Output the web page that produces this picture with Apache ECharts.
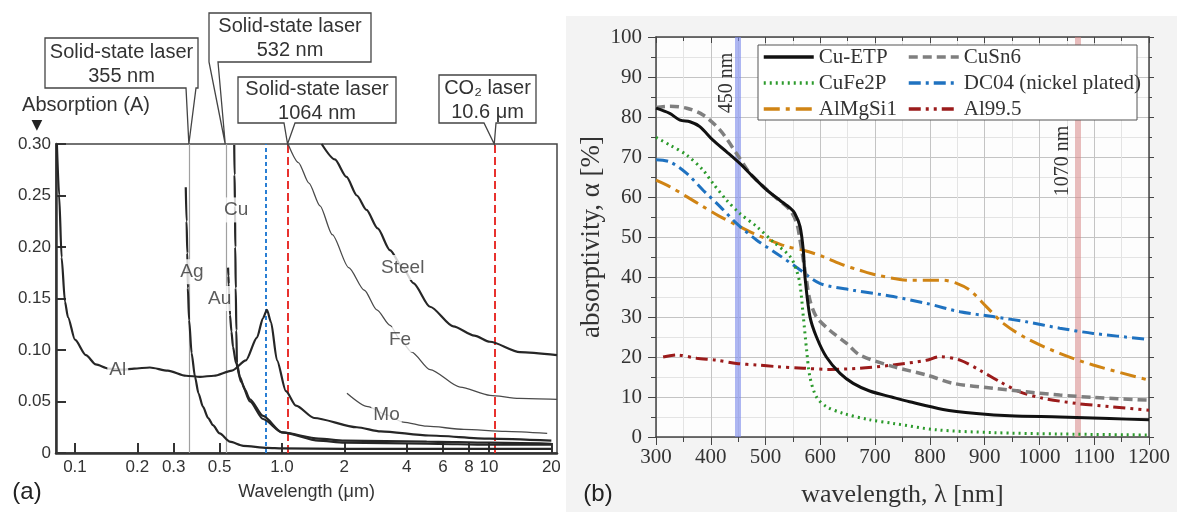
<!DOCTYPE html>
<html>
<head>
<meta charset="utf-8">
<script src="https://cdn.jsdelivr.net/npm/echarts@6/dist/echarts.min.js"></script>
<style>
html, body { margin: 0; padding: 0; background: #fff; }
#chart { width: 1177px; height: 512px; }
</style>
</head>
<body>
<div id="chart"></div>
<script>
// ---------- panel (a): absorption vs wavelength in µm (log scale) ----------
const alX = [0.0818, 0.0839, 0.0862, 0.0895, 0.0925, 0.1, 0.113, 0.126, 0.145, 0.17, 0.193, 0.23, 0.281, 0.344, 0.402, 0.469, 0.573, 0.67, 0.757, 0.81, 0.846, 0.885, 0.946, 1.045, 1.168, 1.43, 2.3, 3.0, 5.13, 10, 20];
const alY = [0.300, 0.250, 0.190, 0.147, 0.132, 0.110, 0.095, 0.086, 0.082, 0.081, 0.082, 0.083, 0.080, 0.075, 0.074, 0.075, 0.080, 0.090, 0.112, 0.131, 0.139, 0.127, 0.090, 0.060, 0.046, 0.034, 0.025, 0.021, 0.017, 0.014, 0.012];
const agX = [0.343, 0.346, 0.349, 0.351, 0.356, 0.366, 0.380, 0.395, 0.415, 0.44, 0.464, 0.50, 0.56, 0.65, 0.85, 1.0, 2, 5, 10, 20];
const agY = [0.258, 0.225, 0.194, 0.160, 0.129, 0.097, 0.074, 0.058, 0.045, 0.034, 0.027, 0.019, 0.011, 0.007, 0.005, 0.0045, 0.004, 0.004, 0.004, 0.004];
const auX = [0.549, 0.551, 0.553, 0.561, 0.57, 0.58, 0.60, 0.635, 0.70, 0.81, 1.0, 1.5, 2, 5, 10, 20];
const auY = [0.180, 0.172, 0.164, 0.134, 0.118, 0.103, 0.087, 0.069, 0.050, 0.033, 0.020, 0.014, 0.012, 0.011, 0.010, 0.009];
const cuX = [0.588, 0.590, 0.593, 0.595, 0.598, 0.602, 0.606, 0.626, 0.66, 0.70, 0.81, 1.0, 1.5, 2, 5, 10, 20];
const cuY = [0.299, 0.270, 0.240, 0.200, 0.160, 0.119, 0.087, 0.074, 0.062, 0.052, 0.036, 0.020, 0.012, 0.010, 0.009, 0.008, 0.008];
const steelX = [1.555, 1.8, 2.05, 2.30, 2.56, 2.9, 3.32, 3.83, 4.31, 5.19, 6.72, 8.5, 10.1, 14.1, 21.3];
const steelY = [0.300, 0.285, 0.268, 0.250, 0.236, 0.218, 0.197, 0.180, 0.165, 0.142, 0.123, 0.114, 0.108, 0.098, 0.095];
const feX = [1.07, 1.2, 1.35, 1.526, 1.75, 2.1, 2.5, 2.87, 3.33, 3.72, 4.23, 5.19, 7.25, 10.1, 14, 21.3];
const feY = [0.300, 0.282, 0.262, 0.240, 0.212, 0.180, 0.158, 0.139, 0.124, 0.110, 0.098, 0.081, 0.064, 0.056, 0.053, 0.052];
const moX = [2.06, 2.6, 3.2, 3.85, 5, 7.57, 12, 19.1];
const moY = [0.058, 0.045, 0.037, 0.030, 0.026, 0.023, 0.021, 0.019];

const curveNames = ['Al', 'Ag', 'Au', 'Cu', 'Steel', 'Fe', 'Mo'];
const labelX = [0.161, 0.367, 0.50, 0.60, 3.83, 3.72, 3.2];
const labelY = [0.081, 0.176, 0.150, 0.236, 0.180, 0.110, 0.037];

const xTickValues = [0.1, 0.2, 0.3, 0.5, 1, 2, 4, 6, 8, 10, 20];
const xTickLabels = ['0.1', '0.2', '0.3', '0.5', '1.0', '2', '4', '6', '8', '10', '20'];
const xMin = 0.081, xMax = 21.3;

const laserLines = [0.355, 0.532, 0.83, 1.064, 10.6];
const laserTexts = ['Solid-state laser\n355 nm', 'Solid-state laser\n532 nm', '', 'Solid-state laser\n1064 nm', 'CO\u2082 laser\n10.6 \u03bcm'];

// ---------- panel (b): absorptivity vs wavelength in nm ----------
const cuEtpX = [300, 325, 344, 362, 380, 404, 429, 453, 477, 502, 526, 545, 553, 563, 569, 572, 581, 593, 611, 636, 660, 690, 730, 763, 824, 885, 946, 1037, 1128, 1200];
const cuEtpY = [82.2, 80.9, 79.2, 78.8, 77.6, 74.2, 71.3, 68.4, 65.1, 61.8, 59.2, 57.2, 56.0, 52.6, 46.5, 40.0, 30.1, 25.0, 20.0, 15.9, 13.4, 11.5, 10.0, 8.8, 6.9, 5.9, 5.3, 5.0, 4.6, 4.3];
const cuSn6X = [300, 325, 356, 386, 417, 447, 471, 496, 520, 545, 557, 563, 569, 575, 581, 593, 617, 648, 672, 733, 794, 843, 915, 976, 1037, 1098, 1200];
const cuSn6Y = [82.4, 82.7, 82.2, 80.5, 76.7, 70.9, 66.0, 62.6, 59.7, 56.7, 53.4, 49.2, 44.2, 39.0, 34.2, 30.0, 26.7, 23.4, 20.5, 17.6, 15.5, 13.4, 12.2, 11.3, 10.5, 9.9, 9.2];
const cuFe2PX = [300, 325, 356, 386, 404, 429, 453, 484, 514, 545, 557, 563, 569, 575, 581, 593, 611, 642, 690, 733, 812, 915, 1037, 1200];
const cuFe2PY = [74.9, 73.0, 70.5, 66.7, 63.4, 59.2, 55.9, 52.6, 48.8, 45.1, 41.5, 38.0, 30.0, 21.7, 15.0, 10.0, 7.6, 5.9, 4.3, 3.4, 1.8, 1.1, 0.75, 0.5];
const dc04X = [300, 325, 356, 386, 417, 447, 484, 520, 557, 599, 660, 733, 794, 855, 915, 976, 1037, 1098, 1200];
const dc04Y = [69.3, 68.8, 65.9, 61.7, 57.6, 53.4, 49.2, 45.9, 42.4, 38.4, 36.7, 35.1, 33.4, 31.3, 30.1, 28.8, 27.2, 25.9, 24.4];
const almgX = [300, 325, 356, 386, 417, 447, 478, 508, 539, 569, 605, 642, 672, 703, 763, 824, 849, 873, 903, 934, 976, 1037, 1098, 1200];
const almgY = [64.2, 62.6, 60.1, 57.6, 55.1, 53.0, 50.9, 49.2, 47.6, 46.7, 45.1, 43.0, 41.7, 40.5, 39.2, 39.2, 38.4, 36.7, 32.6, 28.4, 24.7, 20.9, 18.0, 14.2];
const al995X = [313, 338, 374, 411, 447, 484, 520, 569, 617, 672, 733, 794, 818, 855, 891, 928, 964, 1006, 1067, 1128, 1200];
const al995Y = [20.0, 20.5, 19.7, 19.2, 18.4, 18.0, 17.6, 17.2, 16.9, 17.2, 18.0, 19.2, 20.1, 19.2, 16.7, 13.8, 11.3, 9.7, 8.4, 7.6, 6.7];

const legendCol1 = ['Cu-ETP', 'CuFe2P', 'AlMgSi1'];
const legendCol2 = ['CuSn6', 'DC04 (nickel plated)', 'Al99.5'];
const bandLines = [450, 1070];
const bandTexts = ['450 nm', '1070 nm'];

const SANS = 'Liberation Sans';
const SERIF = 'Liberation Serif';
const INK = '#333';

const logPairs = (xs, ys) => xs.map((x, i) => [Math.log10(x), ys[i]]);
const pairs = (xs, ys) => xs.map((x, i) => [x, ys[i]]);

function leftCurve(name, xs, ys, width, color) {
    return {
        name: name, type: 'line', xAxisIndex: 0, yAxisIndex: 0,
        data: logPairs(xs, ys), symbol: 'none', smooth: 0.25, smoothMonotone: 'x',
        lineStyle: { color: color || '#262626', width: width || 2.2 },
        silent: true, z: 3
    };
}

function rightCurve(name, xs, ys, color, type, width) {
    return {
        name: name, type: 'line', xAxisIndex: 1, yAxisIndex: 1,
        data: pairs(xs, ys), symbol: 'none', smooth: 0.3,
        lineStyle: { color: color, width: width || 3, type: type, cap: 'butt' },
        itemStyle: { color: color },
        silent: true, z: 3
    };
}

const laserStyles = [
    { color: '#a0a0a0', width: 1.2, type: 'solid' },
    { color: '#a0a0a0', width: 1.2, type: 'solid' },
    { color: '#2a7fd4', width: 2, type: [4, 3] },
    { color: '#e8322e', width: 2, type: [8, 4] },
    { color: '#e8322e', width: 2, type: [8, 4] }
];

const alSeries = leftCurve('Al', alX, alY);
alSeries.markLine = {
    silent: true, symbol: ['none', 'none'], label: { show: false }, z: 1,
    data: laserLines.map((v, i) => ({ xAxis: Math.log10(v), lineStyle: laserStyles[i] }))
};

const legendBase = {
    orient: 'vertical', top: 46, padding: 0, itemGap: 4,
    itemWidth: 50, itemHeight: 14, selectedMode: false,
    itemStyle: { opacity: 0 },
    lineStyle: { width: 3.5 },
    textStyle: { fontFamily: SERIF, fontSize: 21, color: INK, lineHeight: 22 }
};

const option = {
    animation: false,
    backgroundColor: '#fff',
    grid: [
        { left: 56, top: 144, width: 501, height: 309, show: true, borderColor: '#444', borderWidth: 1.5,
          backgroundColor: 'transparent', containLabel: false, outerBoundsMode: 'none' },
        { left: 656, top: 37, width: 493, height: 400, show: true, borderWidth: 0,
          backgroundColor: '#fdfdfd', containLabel: false, outerBoundsMode: 'none' }
    ],
    legend: [
        Object.assign({ data: legendCol1, left: 762 }, legendBase),
        Object.assign({ data: legendCol2, left: 907 }, legendBase)
    ],
    xAxis: [
        {
            type: 'value', gridIndex: 0, min: Math.log10(xMin), max: Math.log10(xMax),
            axisLine: { show: true, onZero: false, lineStyle: { color: '#333', width: 2.5 } },
            axisTick: { show: true, inside: true, length: 10, customValues: xTickValues.map(Math.log10),
                        lineStyle: { color: '#333', width: 2 } },
            axisLabel: {
                customValues: xTickValues.map(Math.log10), margin: 6,
                fontFamily: SANS, fontSize: 17, color: INK,
                formatter: v => {
                    let best = 0;
                    xTickValues.forEach((t, i) => {
                        if (Math.abs(Math.log10(t) - v) < Math.abs(Math.log10(xTickValues[best]) - v)) best = i;
                    });
                    return xTickLabels[best];
                }
            },
            splitLine: { show: false },
            name: 'Wavelength (\u03bcm)', nameLocation: 'middle', nameGap: 30,
            nameTextStyle: { fontFamily: SANS, fontSize: 18, color: INK }
        },
        {
            type: 'value', gridIndex: 1, min: 300, max: 1200, interval: 100,
            axisLine: { show: true, onZero: false, lineStyle: { color: '#444', width: 1.5 } },
            axisTick: { show: true, length: 8, lineStyle: { color: '#444' } },
            minorTick: { show: true, splitNumber: 2, length: 5, lineStyle: { color: '#444' } },
            splitLine: { show: true, lineStyle: { color: '#c4c4c4', width: 1 } },
            minorSplitLine: { show: true, lineStyle: { color: '#e4e4e4', width: 1 } },
            axisLabel: { fontFamily: SERIF, fontSize: 21, color: INK, margin: 10, formatter: v => String(v) },
            name: 'wavelength, \u03bb [nm]', nameLocation: 'middle', nameGap: 45,
            nameTextStyle: { fontFamily: SERIF, fontSize: 26, color: INK }
        },
        {
            type: 'value', gridIndex: 1, position: 'top', min: 300, max: 1200, interval: 100,
            axisLine: { show: true, onZero: false, lineStyle: { color: '#444', width: 1.5 } },
            axisTick: { show: true, inside: true, length: 6, lineStyle: { color: '#444' } },
            minorTick: { show: true, splitNumber: 2, length: 4, lineStyle: { color: '#444' } },
            axisLabel: { show: false }, splitLine: { show: false }
        }
    ],
    yAxis: [
        {
            type: 'value', gridIndex: 0, min: 0, max: 0.3, interval: 0.05,
            axisLine: { show: true, onZero: false, lineStyle: { color: '#333', width: 2.5 } },
            axisTick: { show: true, inside: true, length: 10, lineStyle: { color: '#333', width: 2 } },
            axisLabel: { margin: 5, fontFamily: SANS, fontSize: 17, color: INK,
                         formatter: v => (v === 0 ? '0' : v.toFixed(2)) },
            splitLine: { show: false }
        },
        {
            type: 'value', gridIndex: 1, min: 0, max: 100, interval: 10,
            axisLine: { show: true, onZero: false, lineStyle: { color: '#444', width: 1.5 } },
            axisTick: { show: true, length: 8, lineStyle: { color: '#444' } },
            minorTick: { show: true, splitNumber: 2, length: 5, lineStyle: { color: '#444' } },
            splitLine: { show: true, lineStyle: { color: '#c4c4c4', width: 1 } },
            minorSplitLine: { show: true, lineStyle: { color: '#e4e4e4', width: 1 } },
            axisLabel: { fontFamily: SERIF, fontSize: 21, color: INK, margin: 14 },
            name: 'absorptivity, \u03b1 [%]', nameLocation: 'middle', nameGap: 51, nameRotate: 90,
            nameTextStyle: { fontFamily: SERIF, fontSize: 27, color: INK }
        },
        {
            type: 'value', gridIndex: 1, position: 'right', min: 0, max: 100, interval: 10,
            axisLine: { show: true, onZero: false, lineStyle: { color: '#444', width: 1.5 } },
            axisTick: { show: true, length: 5, lineStyle: { color: '#444' } },
            minorTick: { show: true, splitNumber: 2, length: 3, lineStyle: { color: '#444' } },
            axisLabel: { show: false }, splitLine: { show: false }
        }
    ],
    series: [
        alSeries,
        leftCurve('Ag', agX, agY),
        leftCurve('Au', auX, auY),
        leftCurve('Cu', cuX, cuY),
        leftCurve('Steel', steelX, steelY),
        leftCurve('Fe', feX, feY, 1.3, '#4a4a4a'),
        leftCurve('Mo', moX, moY, 1.3, '#4a4a4a'),
        {
            type: 'scatter', xAxisIndex: 0, yAxisIndex: 0, silent: true, z: 10,
            symbolSize: 1, itemStyle: { color: 'rgba(0,0,0,0)' },
            data: curveNames.map((n, i) => [Math.log10(labelX[i]), labelY[i], n]),
            label: { show: true, position: 'inside', formatter: p => p.data[2],
                     fontFamily: SANS, fontSize: 19, color: INK, backgroundColor: '#fff', padding: [3, 2] }
        },
        {
            type: 'line', xAxisIndex: 1, yAxisIndex: 1, data: [], silent: true,
            markLine: {
                silent: true, symbol: ['none', 'none'], label: { show: false }, z: 1,
                data: [
                    { xAxis: bandLines[0], lineStyle: { color: 'rgba(120,135,235,0.6)', width: 6, type: 'solid' } },
                    { xAxis: bandLines[1], lineStyle: { color: 'rgba(215,135,135,0.55)', width: 6, type: 'solid' } }
                ]
            }
        },
        rightCurve('AlMgSi1', almgX, almgY, '#d08414', [16, 6, 4, 6]),
        rightCurve('DC04 (nickel plated)', dc04X, dc04Y, '#1f72c0', [12, 5, 3, 5]),
        rightCurve('Al99.5', al995X, al995Y, '#9b1b1b', [12, 5, 3, 5, 3, 5]),
        rightCurve('CuSn6', cuSn6X, cuSn6Y, '#7f7f7f', [9, 5], 3.5),
        rightCurve('CuFe2P', cuFe2PX, cuFe2PY, '#2c9a2c', [2, 4]),
        rightCurve('Cu-ETP', cuEtpX, cuEtpY, '#111', 'solid', 3)
    ]
};

const chart = echarts.init(document.getElementById('chart'), null, { renderer: 'canvas' });
chart.setOption(option);

// callout boxes above panel (a): pixel layout of each box, tip comes from the laser wavelength
const calloutBoxes = [
    { x0: 45, y0: 38, x1: 198, y1: 88, bl: 186, br: 196 },
    { x0: 209, y0: 13, x1: 371, y1: 62, bl: 209, br: 218 },
    null,
    { x0: 238, y0: 77, x1: 396, y1: 123, bl: 284, br: 295 },
    { x0: 439, y0: 75, x1: 536, y1: 123, bl: 484, br: 496 }
];
const topY = chart.convertToPixel({ yAxisIndex: 0 }, 0.3);
const graphics = [
    { type: 'rect', z: -10, silent: true, shape: { x: 566, y: 16, width: 611, height: 496 }, style: { fill: '#f3f3f3' } }
];
calloutBoxes.forEach((b, i) => {
    if (!b) return;
    const tipX = chart.convertToPixel({ xAxisIndex: 0 }, Math.log10(laserLines[i]));
    graphics.push({
        type: 'polygon', z: 20, silent: true,
        shape: { points: [[b.x0, b.y0], [b.x1, b.y0], [b.x1, b.y1], [b.br, b.y1], [tipX, topY], [b.bl, b.y1], [b.x0, b.y1]] },
        style: { fill: '#fff', stroke: '#444', lineWidth: 1.3 }
    });
    graphics.push({
        type: 'text', z: 21, silent: true, x: (b.x0 + b.x1) / 2, y: (b.y0 + b.y1) / 2 + 1,
        style: { text: laserTexts[i], font: '20px "' + SANS + '"', fill: INK, align: 'center', verticalAlign: 'middle', lineHeight: 24 }
    });
});
graphics.push(
    { type: 'text', z: 21, silent: true, x: 86, y: 105,
      style: { text: 'Absorption (A)', font: '20px "' + SANS + '"', fill: INK, align: 'center', verticalAlign: 'middle' } },
    { type: 'text', z: 21, silent: true, x: 37, y: 125,
      style: { text: '\u25bc', font: '14px "DejaVu Sans"', fill: '#222', align: 'center', verticalAlign: 'middle' } },
    { type: 'text', z: 21, silent: true, x: 27, y: 492,
      style: { text: '(a)', font: '24px "' + SANS + '"', fill: '#222', align: 'center', verticalAlign: 'middle' } },
    { type: 'text', z: 21, silent: true, x: 598, y: 494,
      style: { text: '(b)', font: '24px "' + SANS + '"', fill: '#222', align: 'center', verticalAlign: 'middle' } },
    { type: 'rect', z: 3, silent: true, shape: { x: 758, y: 45, width: 379, height: 75 },
      style: { fill: '#fff', stroke: '#555', lineWidth: 1 } }
);
const bandTextPos = [[-11, 88.5], [-15, 69]];
bandLines.forEach((v, i) => {
    const p = chart.convertToPixel({ gridIndex: 1 }, [v, bandTextPos[i][1]]);
    graphics.push({
        type: 'text', z: 21, silent: true, x: p[0] + bandTextPos[i][0], y: p[1], rotation: Math.PI / 2,
        style: { text: bandTexts[i], font: '20px "' + SERIF + '"', fill: INK, align: 'center', verticalAlign: 'middle' }
    });
});
chart.setOption({ graphic: graphics });

window.onresize = function () {
    chart.resize();
};
</script>
</body>
</html>
